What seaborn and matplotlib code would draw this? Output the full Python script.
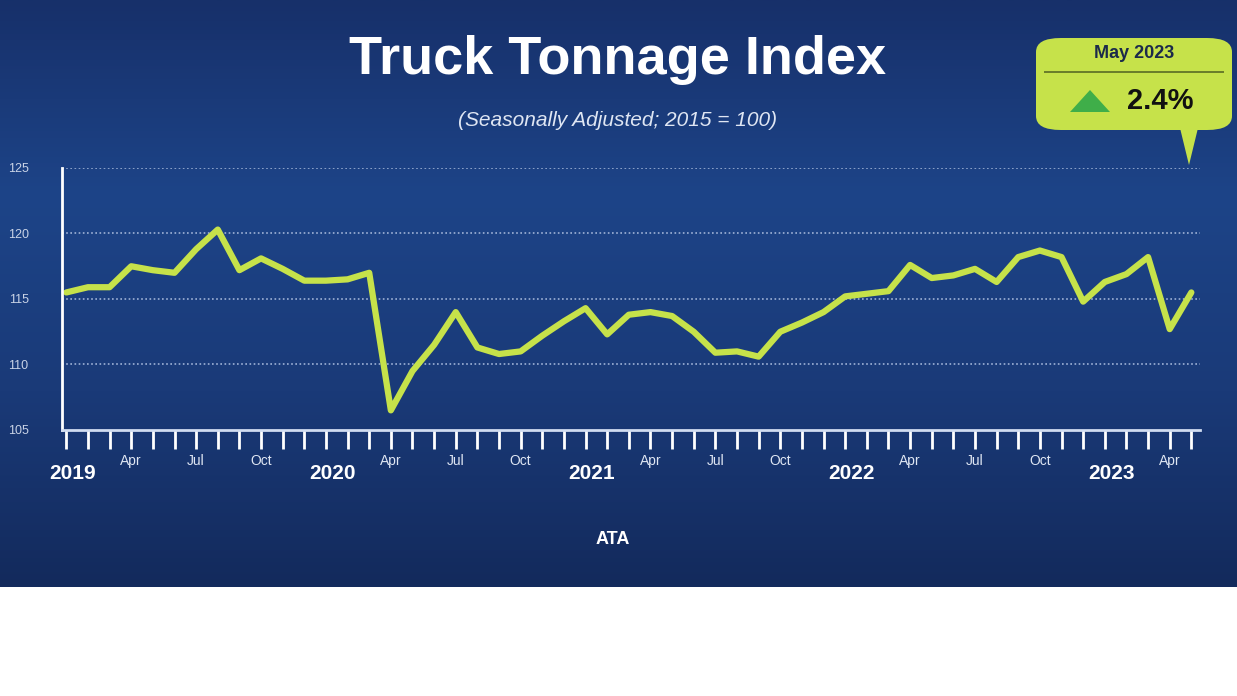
import matplotlib
matplotlib.use("Agg")
import matplotlib.pyplot as plt
import seaborn as sns
import numpy as np
import pandas as pd
from matplotlib.patches import FancyBboxPatch, Polygon, Rectangle
from matplotlib.colors import LinearSegmentedColormap

sns.set_theme(style="white")
plt.rcParams['font.family'] = ['Liberation Sans', 'DejaVu Sans']

months = pd.date_range("2019-01-01", "2023-05-01", freq="MS")
values = [115.5, 115.9, 115.9, 117.5, 117.2, 117.0, 118.8, 120.3, 117.2, 118.1, 117.3, 116.4,
          116.4, 116.5, 117.0, 106.5, 109.5, 111.5, 114.0, 111.3, 110.8, 111.0, 112.2, 113.3,
          114.3, 112.3, 113.8, 114.0, 113.7, 112.5, 110.9, 111.0, 110.6, 112.5, 113.2, 114.0,
          115.2, 115.4, 115.6, 117.6, 116.6, 116.8, 117.3, 116.3, 118.2, 118.7, 118.2, 114.8,
          116.3, 116.9, 118.2, 112.7, 115.5]
yticks = [105, 110, 115, 120, 125]
month_labels = {3: "Apr", 6: "Jul", 9: "Oct"}
title = "Truck Tonnage Index"
subtitle = "(Seasonally Adjusted; 2015 = 100)"
callout_month = "May 2023"
callout_value = "2.4%"

df = pd.DataFrame({"i": np.arange(len(values)), "v": values})

W, H = 1237, 696
fig = plt.figure(figsize=(W/100, H/100), dpi=100)
fig.patch.set_facecolor("white")

bg = fig.add_axes([0, 1-587/H, 1, 587/H])
grad = np.linspace(0, 1, 256).reshape(-1, 1)
cmap = LinearSegmentedColormap.from_list("b", ["#17306a", "#1d4488", "#1a3a78", "#132a5c"])
bg.imshow(grad, aspect="auto", cmap=cmap, extent=[0, 1, 0, 1])
bg.axis("off")

ax = fig.add_axes([62/W, 1-430/H, (1200-62)/W, (430-168)/H])
ax.set_facecolor("none")
sns.lineplot(data=df, x="i", y="v", ax=ax, color="#c6e24a", lw=4.5)
ax.set_xlim(-0.2, len(values)-1+0.4)
ax.set_ylim(105, 125)
ax.set_yticks(yticks)
ax.set_yticklabels([str(t) for t in yticks], color="#c9d3e6", fontsize=9)
ax.tick_params(axis="y", length=0, pad=24, left=False)
for t in yticks[1:]:
    ax.axhline(t, color="#9fb2d6", lw=1.2, ls=(0, (1, 1.5)), zorder=0)
for s in ["top", "right"]:
    ax.spines[s].set_visible(False)
ax.spines["left"].set_color("white")
ax.spines["left"].set_linewidth(2)
ax.spines["bottom"].set_color("#d0dcf0")
ax.spines["bottom"].set_linewidth(2)
ax.set_xticks(df["i"])
ax.set_xticklabels([])
ax.tick_params(axis="x", bottom=True, direction="out", length=14, width=2, color="white")
ax.set_xlabel(""); ax.set_ylabel("")
for i, d in enumerate(months):
    m = d.month - 1
    if m == 0:
        ax.text(i + 0.3, -0.165, str(d.year), transform=ax.get_xaxis_transform(),
                ha="center", va="center", color="white", fontsize=15, fontweight="bold")
    elif m in month_labels:
        ax.text(i, -0.12, month_labels[m], transform=ax.get_xaxis_transform(),
                ha="center", va="center", color="#dfe6f3", fontsize=10)

fig.text(618/W, 1-60/H, title, ha="center", va="center", color="white", fontsize=39, fontweight="bold")
fig.text(618/W, 1-121/H, subtitle, ha="center", va="center", color="#dfe6f3", fontsize=15, style="italic")

box = FancyBboxPatch((1036/W, 1-130/H), (1232-1036)/W, (130-38)/H, transform=fig.transFigure,
                     boxstyle="round,pad=0,rounding_size=0.02", fc="#c6e24a", ec="none")
fig.patches.append(box)
fig.patches.append(Polygon([[1180/W, 1-128/H], [1198/W, 1-128/H], [1189/W, 1-165/H]],
                           closed=True, transform=fig.transFigure, fc="#c6e24a", ec="none"))
fig.patches.append(Rectangle((1044/W, 1-73/H), (1224-1044)/W, 1.5/H, transform=fig.transFigure,
                             fc="#6b7f2a", ec="none"))
fig.text(1134/W, 1-53/H, callout_month, ha="center", va="center", color="#1b2a4a", fontsize=13, fontweight="bold")
fig.patches.append(Polygon([[1070/W, 1-112/H], [1110/W, 1-112/H], [1090/W, 1-90/H]],
                           closed=True, transform=fig.transFigure, fc="#3fae49", ec="none"))
fig.text(1160/W, 1-101/H, callout_value, ha="center", va="center", color="#111111", fontsize=21, fontweight="bold")

fig.text(613/W, 1-540/H, "ATA", ha="center", va="center", color="white", fontsize=13, fontweight="bold")

fig.savefig("out.png", dpi=100)
